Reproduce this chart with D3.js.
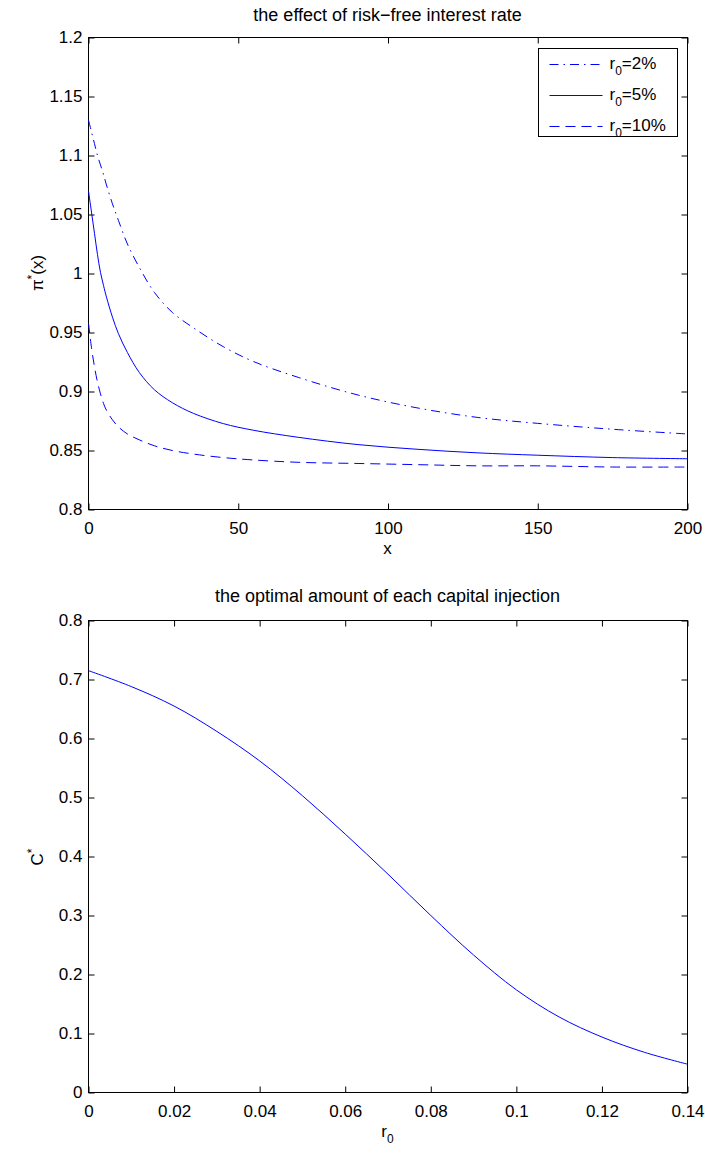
<!DOCTYPE html>
<html>
<head>
<meta charset="utf-8">
<script src="https://cdn.jsdelivr.net/npm/d3@7"></script>
<style>
  html, body { margin: 0; padding: 0; background: #fff; }
  svg { display: block; font-family: "Liberation Sans", Arial, Helvetica, sans-serif; }
</style>
</head>
<body>
<svg id="chart" width="705" height="1153"></svg>
<script>
// ---- top panel: optimal proportion pi*(x) for three risk-free rates ----
const xGrid = [0, 1, 2, 3, 4, 5, 6, 8, 10, 13, 17, 22, 28, 35, 45, 55, 70, 90, 110, 130, 150, 175, 200];
const piR2  = [1.130, 1.120, 1.110, 1.100, 1.092, 1.084, 1.075, 1.059, 1.045, 1.025, 1.005, 0.984, 0.967, 0.954, 0.938, 0.9255, 0.912, 0.897, 0.886, 0.878, 0.873, 0.868, 0.864];
const piR5  = [1.070, 1.052, 1.034, 1.016, 1.001, 0.990, 0.980, 0.963, 0.949, 0.933, 0.916, 0.9015, 0.8905, 0.8815, 0.8728, 0.8672, 0.8612, 0.855, 0.851, 0.848, 0.846, 0.844, 0.843];
const piR10 = [0.958, 0.937, 0.921, 0.908, 0.898, 0.890, 0.884, 0.876, 0.870, 0.864, 0.859, 0.854, 0.850, 0.847, 0.844, 0.842, 0.840, 0.839, 0.838, 0.837, 0.837, 0.836, 0.836];
const seriesRates = ["2%", "5%", "10%"];

const topXTicks  = [0, 50, 100, 150, 200];
const topXLabels = ["0", "50", "100", "150", "200"];
const topYTicks  = [0.8, 0.85, 0.9, 0.95, 1, 1.05, 1.1, 1.15, 1.2];
const topYLabels = ["0.8", "0.85", "0.9", "0.95", "1", "1.05", "1.1", "1.15", "1.2"];

// ---- bottom panel: optimal capital injection amount C* versus r0 ----
const rGrid = [0, 0.01, 0.02, 0.03, 0.04, 0.05, 0.06, 0.07, 0.08, 0.09, 0.10, 0.11, 0.12, 0.13, 0.14];
const cStar = [0.715, 0.688, 0.655, 0.612, 0.562, 0.503, 0.438, 0.370, 0.300, 0.233, 0.174, 0.128, 0.094, 0.068, 0.048];

const botXTicks  = [0, 0.02, 0.04, 0.06, 0.08, 0.1, 0.12, 0.14];
const botXLabels = ["0", "0.02", "0.04", "0.06", "0.08", "0.1", "0.12", "0.14"];
const botYTicks  = [0, 0.1, 0.2, 0.3, 0.4, 0.5, 0.6, 0.7, 0.8];
const botYLabels = ["0", "0.1", "0.2", "0.3", "0.4", "0.5", "0.6", "0.7", "0.8"];

const svg = d3.select("#chart");
svg.append("rect").attr("width", 705).attr("height", 1153).attr("fill", "#fff");

const W = 599, H = 472;
const FONT = 17;
const TITLE_FONT = 18;
const BLUE = "#0000ff";

function panel(top, xDomain, yDomain, xTicks, xLabels, yTicks, yLabels) {
  const g = svg.append("g").attr("transform", `translate(88.5,${top + 0.5})`);
  const x = d3.scaleLinear().domain(xDomain).range([0, W]);
  const y = d3.scaleLinear().domain(yDomain).range([H, 0]);

  const styleAxis = sel => {
    sel.select(".domain").remove();
    sel.selectAll(".tick line").attr("stroke", "#000");
    sel.selectAll(".tick text").attr("fill", "#000").style("font-size", FONT + "px");
  };

  g.append("g").attr("transform", `translate(0,${H})`)
    .call(d3.axisBottom(x).tickValues(xTicks).tickFormat((d, i) => xLabels[i])
      .tickSizeInner(-6).tickSizeOuter(0).tickPadding(12))
    .call(styleAxis);
  g.append("g")
    .call(d3.axisTop(x).tickValues(xTicks).tickFormat("")
      .tickSizeInner(-6).tickSizeOuter(0))
    .call(styleAxis);
  g.append("g")
    .call(d3.axisLeft(y).tickValues(yTicks).tickFormat((d, i) => yLabels[i])
      .tickSizeInner(-6).tickSizeOuter(0).tickPadding(6))
    .call(styleAxis);
  g.append("g").attr("transform", `translate(${W},0)`)
    .call(d3.axisRight(y).tickValues(yTicks).tickFormat("")
      .tickSizeInner(-6).tickSizeOuter(0))
    .call(styleAxis);

  g.append("rect").attr("width", W).attr("height", H)
    .attr("fill", "none").attr("stroke", "#000").attr("stroke-width", 1);
  return { g, x, y };
}

function drawLine(p, xs, ys, dash) {
  const line = d3.line()
    .x((d, i) => p.x(xs[i]))
    .y(d => p.y(d))
    .curve(d3.curveCatmullRom.alpha(0.5));
  p.g.append("path")
    .attr("d", line(ys))
    .attr("fill", "none")
    .attr("stroke", BLUE)
    .attr("stroke-width", 1)
    .attr("stroke-dasharray", dash);
}

const DASHDOT = "9,5,1.5,5";
const DASHED = "10,6";

// ---------- top panel ----------
const p1 = panel(37, [0, 200], [0.8, 1.2], topXTicks, topXLabels, topYTicks, topYLabels);
drawLine(p1, xGrid, piR2, DASHDOT);
drawLine(p1, xGrid, piR5, null);
drawLine(p1, xGrid, piR10, DASHED);

svg.append("text").attr("x", 387.5).attr("y", 21).attr("text-anchor", "middle")
  .style("font-size", TITLE_FONT + "px").text("the effect of risk\u2212free interest rate");

svg.append("text").attr("x", 387.5).attr("y", 554).attr("text-anchor", "middle")
  .style("font-size", FONT + "px").text("x");

const yl1 = svg.append("text").attr("transform", "translate(43,273) rotate(-90)")
  .attr("text-anchor", "middle").style("font-size", FONT + "px");
yl1.append("tspan").text("\u03c0");
yl1.append("tspan").attr("dy", -7).style("font-size", "12px").text("*");
yl1.append("tspan").attr("dy", 7).text("(x)");

// legend
const leg = p1.g.append("g").attr("transform", "translate(450,11)");
leg.append("rect").attr("width", 139).attr("height", 88)
  .attr("fill", "#fff").attr("stroke", "#000").attr("stroke-width", 1);
const legDash = [DASHDOT, null, DASHED];
seriesRates.forEach((r, i) => {
  const cy = 16 + i * 31;
  leg.append("line").attr("x1", 11).attr("x2", 64).attr("y1", cy).attr("y2", cy)
    .attr("stroke", BLUE).attr("stroke-width", 1).attr("stroke-dasharray", legDash[i]);
  const t = leg.append("text").attr("x", 71).attr("y", cy + 4).style("font-size", FONT + "px");
  t.append("tspan").text("r");
  t.append("tspan").attr("dy", 6).style("font-size", "12px").text("0");
  t.append("tspan").attr("dy", -6).text("=" + r);
});

// ---------- bottom panel ----------
const p2 = panel(620, [0, 0.14], [0, 0.8], botXTicks, botXLabels, botYTicks, botYLabels);
drawLine(p2, rGrid, cStar, null);

svg.append("text").attr("x", 387.5).attr("y", 602).attr("text-anchor", "middle")
  .style("font-size", TITLE_FONT + "px").text("the optimal amount of each capital injection");

const xl2 = svg.append("text").attr("x", 387.5).attr("y", 1137).attr("text-anchor", "middle")
  .style("font-size", FONT + "px");
xl2.append("tspan").text("r");
xl2.append("tspan").attr("dy", 6).style("font-size", "12px").text("0");

const yl2 = svg.append("text").attr("transform", "translate(43,857) rotate(-90)")
  .attr("text-anchor", "middle").style("font-size", FONT + "px");
yl2.append("tspan").text("C");
yl2.append("tspan").attr("dy", -7).style("font-size", "12px").text("*");
</script>
</body>
</html>
